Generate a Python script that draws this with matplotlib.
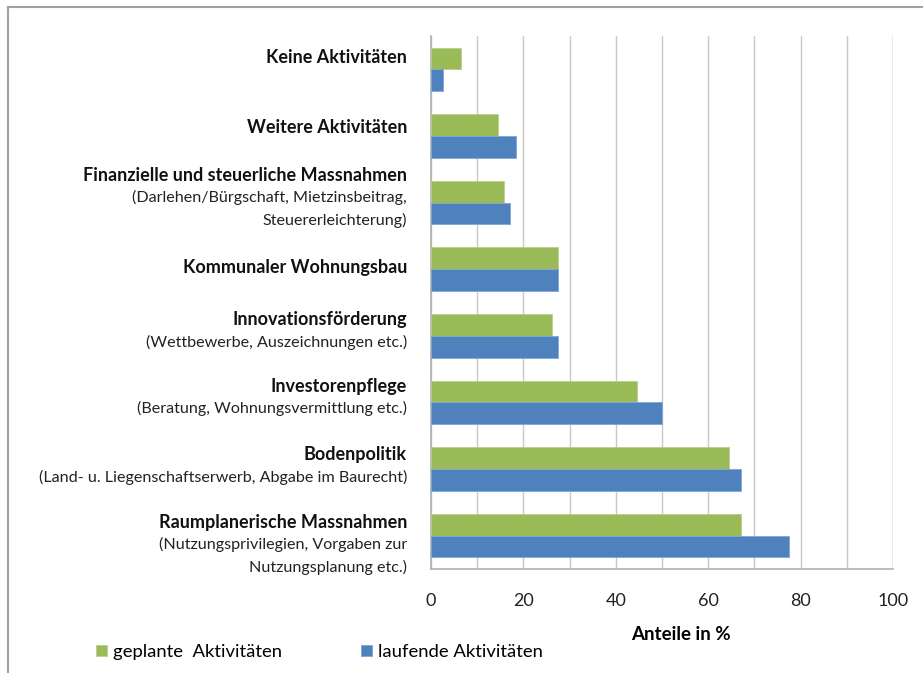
import matplotlib.pyplot as plt
import matplotlib.transforms as mtransforms
from matplotlib.lines import Line2D
import numpy as np

plt.rcParams['font.family'] = ['Lato', 'DejaVu Sans']

# Data (top to bottom)
titles = ['Keine Aktivitäten', 'Weitere Aktivitäten',
          'Finanzielle und steuerliche Massnahmen', 'Kommunaler Wohnungsbau',
          'Innovationsförderung', 'Investorenpflege', 'Bodenpolitik',
          'Raumplanerische Massnahmen']
subtitles = [[], [],
             ['(Darlehen/Bürgschaft, Mietzinsbeitrag,', 'Steuererleichterung)'],
             [],
             ['(Wettbewerbe, Auszeichnungen etc.)'],
             ['(Beratung, Wohnungsvermittlung etc.)'],
             ['(Land- u. Liegenschaftserwerb, Abgabe im Baurecht)'],
             ['(Nutzungsprivilegien, Vorgaben zur', 'Nutzungsplanung etc.)']]
geplant = [6.6, 14.4, 15.8, 27.5, 26.2, 44.6, 64.4, 67.1]
laufend = [2.7, 18.5, 17.1, 27.5, 27.5, 49.9, 67.1, 77.5]
xticks = [0, 20, 40, 60, 80, 100]

green = '#9BBB59'
blue = '#4F81BD'

fig = plt.figure(figsize=(9.23, 6.73), dpi=100)
ax = fig.add_axes([431/923, 1 - 569/673, 462/923, 533/673])

pos = np.arange(len(titles))
h = 0.326
ax.barh(pos - h/2, geplant, height=h, color=green, edgecolor='#b8d08a', linewidth=0.6,
        label='geplante  Aktivitäten', zorder=3)
ax.barh(pos + h/2, laufend, height=h, color=blue, edgecolor='#7fa6d6', linewidth=0.6,
        label='laufende Aktivitäten', zorder=3)

ax.set_ylim(len(titles) - 0.5, -0.5)
ax.set_xlim(0, 100)
ax.set_xticks(xticks)
ax.set_xticks(np.arange(0, 101, 10), minor=True)
ax.grid(axis='x', which='both', color='#c8c8c8', linewidth=1, zorder=0)
ax.tick_params(axis='x', which='both', length=0, labelsize=13, pad=17, colors='#222222')
ax.set_yticks([])
for s in ['top', 'right']:
    ax.spines[s].set_visible(False)
for s in ['left', 'bottom']:
    ax.spines[s].set_color('#b0b0b0')
    ax.spines[s].set_linewidth(1.2)
ax.axvline(100, color='#c8c8c8', linewidth=1, zorder=0)

ax.set_xlabel('Anteile in %', fontsize=13.5, fontweight='bold')
ax.xaxis.set_label_coords(0.54, -0.107)

# category labels (bold title + normal sub lines), right aligned left of the axis
shift = [12, 8, 5, 2, 5, 5, 3, -9]  # pixel nudges
trans = mtransforms.blended_transform_factory(ax.transAxes, ax.transData)
line_gap = 22.5
for i, (t, subs) in enumerate(zip(titles, subtitles)):
    lines = [t] + subs
    n = len(lines)
    for j, txt in enumerate(lines):
        off = shift[i] - (j - (n - 1) / 2) * line_gap
        ax.annotate(txt, xy=(0, i), xycoords=trans, xytext=(-24, off),
                    textcoords='offset pixels', ha='right', va='center',
                    fontsize=13 if j == 0 else 11.6,
                    fontweight='bold' if j == 0 else 'normal',
                    color='#111111' if j == 0 else '#222222', annotation_clip=False)

fig.legend(loc='center left', bbox_to_anchor=(96/923, 1 - 652/673), ncol=2,
           frameon=False, fontsize=13.3, handlelength=0.6, handleheight=0.6,
           handletextpad=0.3, columnspacing=4.3, borderpad=0, borderaxespad=0)

# chart border (top and left visible)
fig.add_artist(Line2D([8/923, 1], [1 - 7/673, 1 - 7/673], color='#a0a0a0', lw=1.5,
                      transform=fig.transFigure))
fig.add_artist(Line2D([8/923, 8/923], [0, 1 - 7/673], color='#a0a0a0', lw=1.5,
                      transform=fig.transFigure))

fig.savefig('out.png', dpi=100, facecolor='white')
